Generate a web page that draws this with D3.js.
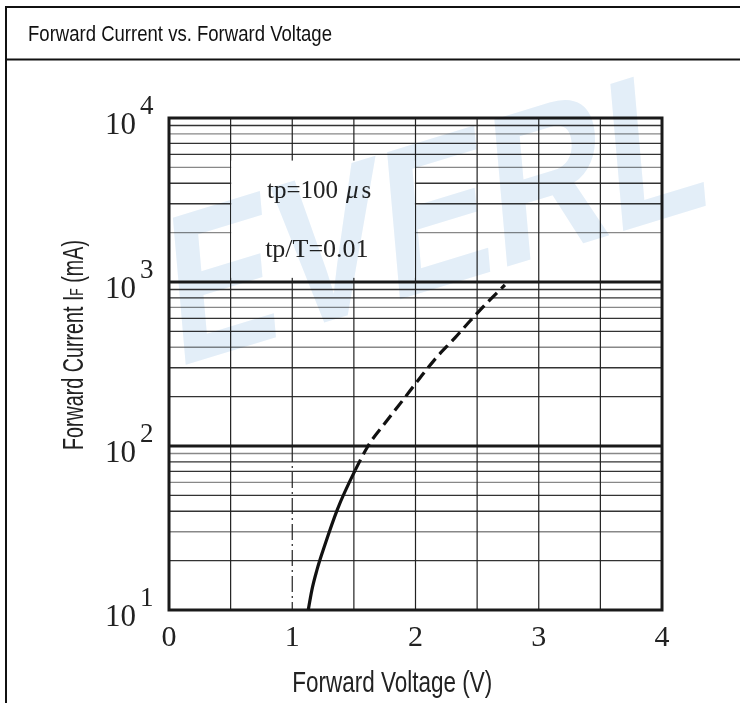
<!DOCTYPE html>
<html>
<head>
<meta charset="utf-8">
<script src="https://cdn.jsdelivr.net/npm/d3@7"></script>
<style>
  html, body { margin: 0; padding: 0; background: #fff; }
  svg { display: block; }
</style>
</head>
<body>
<div id="chart"></div>
<script>
// Chart data
const chartTitle = "Forward Current vs. Forward Voltage";
const xTickValues = [0, 1, 2, 3, 4];
const xGridValues = [0.5, 1, 1.5, 2, 2.5, 3, 3.5];
const yDecades = [10, 100, 1000, 10000];
const yExponents = ["1", "2", "3", "4"];

// Solid part of the curve
const solidVoltage = [1.13, 1.16, 1.20, 1.27, 1.365, 1.51];
const solidCurrent = [10, 13.3, 17.5, 25.6, 40.8, 71];

// Dashed (pulsed) part of the curve
const dashVoltage = [1.51, 1.615, 1.753, 1.899, 2.036, 2.174, 2.32, 2.442, 2.579, 2.725];
const dashCurrent = [71, 100, 138, 191, 260, 349, 456, 578, 745, 959];

const legendMain = ["tp=100", "tp/T=0.01"];

// Set the dimensions and margins of the graph
const W = 740, H = 703;
const margin = {top: 118, right: 78, bottom: 93, left: 169};
const width = W - margin.left - margin.right;
const height = H - margin.top - margin.bottom;

const serif = "'Liberation Serif', 'Times New Roman', serif";
const sans = "'Liberation Sans', Arial, sans-serif";

const svg = d3.select("#chart")
              .append("svg")
              .attr("width", W)
              .attr("height", H);

// Outer frame and title cell
svg.append("rect")
   .attr("x", 6).attr("y", 7)
   .attr("width", W + 10).attr("height", H + 10)
   .attr("fill", "#fff")
   .attr("stroke", "#111")
   .attr("stroke-width", 2);

svg.append("line")
   .attr("x1", 6).attr("x2", W + 10)
   .attr("y1", 59.5).attr("y2", 59.5)
   .attr("stroke", "#111")
   .attr("stroke-width", 2);

svg.append("text")
   .attr("x", 28).attr("y", 41)
   .attr("font-family", sans)
   .attr("font-size", 21.5)
   .attr("textLength", 304)
   .attr("lengthAdjust", "spacingAndGlyphs")
   .attr("fill", "#111")
   .text(chartTitle);

const g = svg.append("g")
             .attr("transform", `translate(${margin.left},${margin.top})`);

// Scales
const x = d3.scaleLinear().domain([0, 4]).range([0, width]);
const y = d3.scaleLog().domain([10, 10000]).range([height, 0]);

// Minor horizontal gridlines (2..9 in each decade)
const minorY = y.ticks().filter(v => !yDecades.includes(v));
g.selectAll(".minor")
 .data(minorY)
 .enter().append("line")
 .attr("x1", 0).attr("x2", width)
 .attr("y1", d => y(d)).attr("y2", d => y(d))
 .attr("stroke", (d, i) => (i % 3 === 1 ? "#888" : "#333"))
 .attr("stroke-width", 1.3);

// Vertical gridlines
g.selectAll(".vgrid")
 .data(xGridValues)
 .enter().append("line")
 .attr("x1", d => x(d)).attr("x2", d => x(d))
 .attr("y1", 0)
 .attr("y2", d => (d === 1 ? y(100) : height))
 .attr("stroke", "#222")
 .attr("stroke-width", 1.2);

// The 1 V line is dashed below 100 mA
g.append("line")
 .attr("x1", x(1)).attr("x2", x(1))
 .attr("y1", y(100)).attr("y2", height)
 .attr("stroke", "#222")
 .attr("stroke-width", 1.2)
 .attr("stroke-dasharray", "16,4,2,4");

// Major decade lines
g.selectAll(".major")
 .data(yDecades.slice(1, 3))
 .enter().append("line")
 .attr("x1", 0).attr("x2", width)
 .attr("y1", d => y(d)).attr("y2", d => y(d))
 .attr("stroke", "#1a1a1a")
 .attr("stroke-width", 3.2);

// White legend box covering the grid
g.append("rect")
 .attr("x", x(0.5) + 0.6)
 .attr("y", y(5500))
 .attr("width", x(2) - x(0.5) - 1.2)
 .attr("height", y(1060) - y(5500))
 .attr("fill", "#fff");

// Watermark
svg.append("text")
   .attr("transform", "translate(175,368) rotate(-17) skewX(-12)")
   .attr("font-family", sans)
   .attr("font-weight", "bold")
   .attr("font-size", 210)
   .attr("textLength", 560)
   .attr("lengthAdjust", "spacingAndGlyphs")
   .attr("fill", "#e3eef8")
   .style("mix-blend-mode", "multiply")
   .text("EVERL");

// Plot frame
g.append("rect")
 .attr("x", 0).attr("y", 0)
 .attr("width", width).attr("height", height)
 .attr("fill", "none")
 .attr("stroke", "#1a1a1a")
 .attr("stroke-width", 3);

// Curve
const line = d3.line()
               .x(d => x(d[0]))
               .y(d => y(d[1]))
               .curve(d3.curveMonotoneX);

g.append("path")
 .datum(d3.zip(solidVoltage, solidCurrent))
 .attr("d", line)
 .attr("fill", "none")
 .attr("stroke", "#111")
 .attr("stroke-width", 3.2);

g.append("path")
 .datum(d3.zip(dashVoltage, dashCurrent))
 .attr("d", line)
 .attr("fill", "none")
 .attr("stroke", "#111")
 .attr("stroke-width", 3.2)
 .attr("stroke-dasharray", "12,6");

// Legend text
const leg1 = g.append("text")
              .attr("x", x(0.795)).attr("y", y(3250))
              .attr("font-family", serif)
              .attr("font-size", 25)
              .attr("fill", "#222")
              .text(legendMain[0]);
leg1.append("tspan").attr("dx", 8).attr("font-style", "italic").text("\u03bc");
leg1.append("tspan").attr("dx", 3).text("s");

g.append("text")
 .attr("x", x(0.78)).attr("y", y(1420))
 .attr("font-family", serif)
 .attr("font-size", 26)
 .attr("fill", "#222")
 .text(legendMain[1]);

// X axis tick labels
g.selectAll(".xlab")
 .data(xTickValues)
 .enter().append("text")
 .attr("x", d => x(d))
 .attr("y", height + 36)
 .attr("text-anchor", "middle")
 .attr("font-family", serif)
 .attr("font-size", 30)
 .attr("fill", "#222")
 .text(d => d);

// Y axis tick labels: 10 with exponent
const ylab = g.selectAll(".ylab")
              .data(yDecades)
              .enter().append("g")
              .attr("transform", d => `translate(0,${y(d)})`);

ylab.append("text")
    .attr("x", -33).attr("y", 16)
    .attr("text-anchor", "end")
    .attr("font-family", serif)
    .attr("font-size", 31)
    .attr("fill", "#222")
    .text("10");

ylab.append("text")
    .attr("x", -29).attr("y", -4)
    .attr("font-family", serif)
    .attr("font-size", 27)
    .attr("fill", "#222")
    .text((d, i) => yExponents[i]);

// Axis titles, narrow sans squeezed to the widths in the picture
const xTitle = svg.append("text")
                  .attr("font-family", sans)
                  .attr("font-size", 29)
                  .attr("fill", "#222")
                  .text("Forward Voltage (V)");
const xw = xTitle.node().getComputedTextLength();
xTitle.attr("transform", `translate(${margin.left + x(1)},692) scale(${200 / xw},1)`);

const yTitle = svg.append("text")
                  .attr("font-family", sans)
                  .attr("font-size", 29)
                  .attr("text-anchor", "middle")
                  .attr("fill", "#222");
yTitle.append("tspan").text("Forward Current I");
yTitle.append("tspan").attr("font-size", 18).text("F");
yTitle.append("tspan").text(" (mA)");
const yw = yTitle.node().getComputedTextLength();
yTitle.attr("transform", `translate(83,345) rotate(-90) scale(${210 / yw},1)`);
</script>
</body>
</html>
